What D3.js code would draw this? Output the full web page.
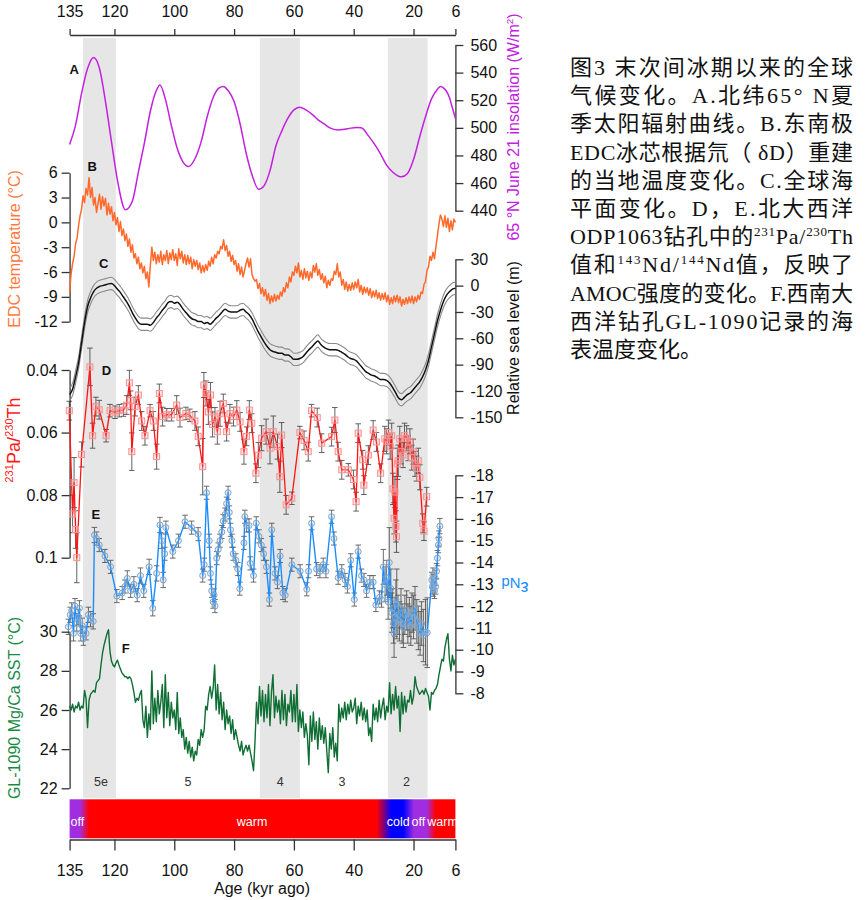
<!DOCTYPE html>
<html><head><meta charset="utf-8">
<script src="https://cdn.jsdelivr.net/npm/d3@7"></script>
<style>body{margin:0;background:#fff}</style>
</head><body>
<svg id="c" width="867" height="900" xmlns="http://www.w3.org/2000/svg"></svg>
<script>
// ---------------- DATA ----------------
const ageTicks = [135,120,100,80,60,40,20,6];
const insolTicks = [440,460,480,500,520,540,560];
const edcTicks = [6,3,0,-3,-6,-9,-12];
const seaTicks = [30,0,-30,-60,-90,-120,-150];
const paTicks = [0.04,0.06,0.08,0.1];
const ndTicks = [-18,-17,-16,-15,-14,-13,-12,-11,-10,-9,-8];
const sstTicks = [30,28,26,24,22];
const bands = [[130.5,119.5],[71.4,58],[28.6,15.3]];
const misLabels = ["5e","5","4","3","2"];
const misAges = [124.5,95.4,64.6,43.9,22.4];

// A: 65N June 21 insolation (W/m2)
const insolAge = [135,133,131,129,127,125,123,121,119,116.3,114,112,110,108,106,104.8,103,101,99,97,95.3,93,91,89,87,85,83.6,82,80,78,76,74,71.8,70,68,66,64,62,60,58.1,56,54,52,50,48,45.3,43,41,39,37.5,35,33,31,29,27,25,24,22,20,18,16,14,12,11,10,8,7.2,6];
const insolVal = [488,502,525,543,551,543,519,490,462,440.6,447,468,489,512,527,531,521,502,485,475,472,478,490,508,522,529,530,527,519,503,482,466,455.5,458,469,487,498,507,513,515,513,510,506,503,500,498.5,499,499.8,500.2,500,494,488,481,473,468,465,464.6,467,477,493,508,521,528,530,529,522,516,507];

// B: EDC temperature (deg C), 135 -> 6 kyr every 0.5 kyr
const edcStart = 135, edcStep = 0.5;
const edcTemp = [
-8.5,-6.2,-5.0,-4.1,-2.6,-1.9,-0.4,0.8,1.6,3.2,
2.4,4.1,3.3,5.4,3.0,4.2,2.1,3.0,1.2,2.3,
3.4,1.6,3.1,2.0,2.9,0.9,2.3,1.0,1.9,0.2,
1.2,-0.3,0.6,-1.1,0.1,-1.6,-0.8,-2.2,-1.4,-2.9,
-2.0,-3.6,-2.7,-4.3,-3.8,-5.0,-4.2,-5.6,-4.9,-6.1,
-5.3,-6.8,-6.0,-7.8,-5.2,-3.0,-4.6,-3.6,-5.0,-3.9,
-4.8,-3.5,-5.1,-3.9,-4.6,-3.4,-5.0,-3.7,-4.5,-3.3,
-4.6,-3.8,-5.2,-3.2,-4.4,-3.5,-4.9,-3.9,-5.1,-4.0,
-5.0,-4.2,-5.6,-4.5,-5.3,-4.6,-5.7,-4.9,-6.1,-5.2,
-6.0,-5.1,-5.8,-4.7,-5.3,-4.2,-5.0,-3.9,-4.3,-3.5,
-3.8,-2.9,-3.2,-2.1,-3.4,-2.8,-4.1,-3.5,-4.7,-4.0,
-5.1,-4.6,-5.9,-5.0,-6.3,-5.4,-6.6,-5.8,-5.0,-4.3,
-5.4,-4.4,-6.3,-6.8,-7.1,-6.9,-8.0,-7.4,-8.6,-7.9,
-8.9,-8.1,-9.4,-8.6,-9.8,-8.9,-9.6,-8.7,-9.5,-8.8,
-9.3,-8.4,-8.9,-7.9,-8.4,-7.3,-7.9,-6.6,-7.2,-6.0,
-6.4,-5.3,-6.1,-4.9,-6.6,-5.8,-6.9,-5.6,-6.7,-5.9,
-7.0,-6.0,-6.7,-5.2,-6.0,-5.0,-6.4,-5.7,-6.9,-6.2,
-7.3,-6.5,-7.9,-7.0,-7.6,-6.8,-7.0,-5.9,-6.3,-5.0,
-6.6,-6.0,-7.6,-6.9,-8.1,-7.2,-8.3,-7.5,-8.2,-7.3,
-8.1,-7.2,-7.9,-6.9,-8.4,-7.6,-8.7,-7.8,-8.5,-7.9,
-8.8,-8.0,-9.1,-8.3,-9.0,-8.2,-9.2,-8.5,-9.4,-8.6,
-9.3,-8.5,-9.6,-8.8,-9.9,-9.1,-9.8,-8.9,-9.6,-8.8,
-9.7,-9.0,-10.1,-9.3,-9.9,-9.1,-9.8,-9.0,-9.7,-8.9,
-9.8,-9.0,-9.6,-8.8,-9.3,-8.4,-8.6,-7.5,-7.2,-5.8,
-5.4,-4.1,-4.6,-3.6,-4.4,-2.9,-1.6,-0.2,0.9,0.4,
-0.5,0.8,-0.6,0.5,-1.1,0.2,-0.9,0.4,0.0];

// C: relative sea level (m), 135 -> 6 kyr every 1 kyr
const seaStart = 135, seaStep = 1, seaErr = 7;
const seaLevel = [
-124,-118,-104,-88,-65,-42,-24,-14,-7,-3,
-1,0,1,2,2.5,0,-4,-8,-13,-18,
-24,-31,-37,-42,-44,-44,-44,-45,-42,-37,
-33,-28,-24,-19,-18,-20,-19,-22,-27,-31,
-35,-38,-39,-41,-41,-43,-42,-44,-41,-37,
-34,-30,-27,-29,-30,-30,-30,-28,-27,-30,
-33,-38,-45,-52,-58,-64,-69,-73,-75,-76,
-77,-77,-79,-79,-81,-84,-84,-83,-81,-77,
-73,-70,-66,-63,-67,-70,-72,-73,-73,-73,
-74,-76,-78,-81,-83,-84,-86,-90,-94,-98,
-100,-102,-103,-105,-107,-107,-108,-111,-116,-122,
-128,-130,-127,-124,-122,-118,-114,-110,-104,-96,
-85,-70,-55,-40,-28,-18,-11,-7,-4,-3];

// D: 231Pa/230Th (ODP1063)
const paAge = [135.1,134.0,133.5,133.0,132.6,131.0,128.2,127.3,126.2,125.1,122.8,121.5,119.8,118.4,117.0,115.9,115.0,114.6,114.2,113.1,112.0,110.9,109.8,108.1,107.0,105.9,105.0,103.9,102.5,100.9,99.2,98.1,96.1,94.8,93.1,92.0,90.5,90.1,89.4,88.6,87.9,87.2,86.4,85.6,84.7,83.6,82.5,81.4,80.2,79.1,78.0,76.7,75.8,74.9,74.1,72.7,71.9,70.8,69.3,68.0,66.9,65.5,64.7,64.1,62.6,60.7,58.0,56.6,55.2,54.1,52.2,50.7,47.4,46.3,45.2,44.0,41.8,40.1,39.2,38.5,37.0,36.6,35.1,33.5,32.4,31.0,29.6,29.0,28.4,27.8,27.3,26.9,26.5,26.2,25.9,25.7,25.4,25.1,24.6,24.2,23.5,23.0,22.3,21.8,21.2,20.6,20.1,19.5,19.0,18.4,17.9,16.9,16.5,15.6];
const paVal = [0.053,0.086,0.076,0.091,0.100,0.067,0.039,0.061,0.0517,0.0527,0.061,0.053,0.0535,0.053,0.0528,0.0512,0.0441,0.0497,0.0661,0.0517,0.048,0.0563,0.061,0.053,0.0563,0.0677,0.0475,0.0549,0.0543,0.0543,0.0512,0.0552,0.0539,0.0545,0.0563,0.0612,0.0709,0.0448,0.0475,0.0534,0.048,0.0574,0.055,0.0597,0.054,0.0507,0.0597,0.054,0.0549,0.0528,0.0566,0.0661,0.0612,0.0528,0.057,0.073,0.0672,0.0618,0.0597,0.065,0.0597,0.0645,0.0741,0.0608,0.0831,0.081,0.06,0.0625,0.0661,0.053,0.0552,0.0634,0.0613,0.056,0.0661,0.0719,0.0719,0.075,0.0821,0.0602,0.0687,0.0768,0.0672,0.0592,0.063,0.073,0.062,0.0628,0.06,0.0645,0.061,0.078,0.0874,0.079,0.09,0.0933,0.07,0.069,0.062,0.066,0.0672,0.061,0.0618,0.065,0.0628,0.068,0.0661,0.07,0.0715,0.069,0.0743,0.089,0.0915,0.0805];
const paErr = [0.003,0.006,0.008,0.006,0.008,0.004,0.006,0.004,0.003,0.003,0.002,0.002,0.002,0.002,0.002,0.003,0.004,0.003,0.006,0.003,0.003,0.003,0.003,0.002,0.003,0.004,0.003,0.003,0.002,0.002,0.003,0.003,0.002,0.002,0.003,0.003,0.009,0.004,0.004,0.004,0.004,0.004,0.003,0.004,0.004,0.003,0.003,0.003,0.003,0.003,0.003,0.004,0.003,0.003,0.003,0.003,0.004,0.004,0.004,0.005,0.005,0.004,0.005,0.004,0.003,0.002,0.002,0.003,0.003,0.002,0.003,0.003,0.003,0.004,0.003,0.003,0.002,0.003,0.003,0.003,0.003,0.003,0.003,0.003,0.003,0.003,0.004,0.004,0.004,0.004,0.004,0.005,0.005,0.005,0.005,0.005,0.005,0.005,0.004,0.004,0.004,0.004,0.004,0.004,0.004,0.004,0.004,0.004,0.004,0.004,0.004,0.003,0.003,0.003];

// E: epsilon Nd (ODP1063)
const ndAge = [135.4,134.8,134.3,133.7,133.2,132.6,132.1,131.7,131.3,130.8,130.4,129.5,128.7,128.0,127.1,126.7,126.0,125.1,123.2,121.3,119.2,117.4,116.5,115.7,114.6,113.5,112.4,111.3,110.2,108.4,107.2,105.9,104.8,104.2,103.7,103.2,102.8,100.5,98.6,96.4,94.2,92.0,90.5,90.0,89.2,88.3,87.9,87.5,87.0,86.7,86.4,85.8,85.3,84.7,84.1,83.6,83.0,82.5,82.0,81.6,81.2,80.7,80.3,79.4,78.8,78.1,76.7,76.4,75.8,75.0,74.6,73.5,72.6,71.7,70.9,70.1,69.2,68.2,67.4,66.3,65.5,64.6,63.7,62.9,60.7,57.9,55.7,55.1,54.1,52.4,51.3,50.2,49.3,47.4,46.6,45.2,44.0,42.9,42.1,41.0,39.8,38.5,37.4,36.6,35.7,34.6,33.5,32.6,31.4,30.7,30.1,29.5,29.0,28.5,28.1,27.6,27.3,27.0,26.7,26.5,26.2,25.9,25.6,25.2,24.7,24.2,23.8,23.4,22.9,22.3,21.9,21.4,20.9,20.5,20.0,19.5,18.9,18.4,17.8,17.3,16.7,16.0,15.4,13.9,13.7,13.5,13.4,13.2,13.0,12.8,12.6,12.3,12.0,11.7,11.5,11.2];
const ndVal = [-11.05,-11.6,-11.8,-10.75,-12.0,-11.2,-11.5,-11.9,-10.75,-11.1,-10.5,-10.75,-11.6,-11.4,-11.3,-15.26,-15.1,-14.8,-14.3,-13.8,-12.46,-12.6,-12.9,-13.27,-12.7,-13.0,-12.5,-13.4,-12.7,-13.8,-11.9,-13.5,-15.72,-15.0,-13.2,-14.4,-15.6,-14.5,-15.0,-15.87,-15.6,-15.3,-13.4,-13.9,-17.2,-15.0,-13.5,-12.7,-12.2,-12.5,-12.0,-14.2,-14.6,-15.0,-15.4,-15.9,-16.2,-16.7,-17.2,-16.3,-15.5,-15.0,-14.4,-14.1,-13.7,-12.8,-14.9,-16.1,-15.7,-15.7,-13.96,-13.4,-15.8,-15.2,-14.8,-14.4,-13.8,-12.3,-15.5,-13.5,-13.1,-14.3,-12.6,-12.5,-13.9,-13.6,-12.77,-13.6,-15.8,-13.7,-13.6,-13.9,-13.6,-16.1,-15.1,-13.3,-13.6,-13.2,-12.9,-14.1,-12.3,-14.5,-13.4,-13.2,-12.7,-13.1,-13.1,-12.05,-12.4,-12.3,-13.8,-13.0,-13.3,-12.2,-14.0,-12.8,-11.7,-11.9,-11.2,-10.75,-11.5,-12.3,-12.1,-11.6,-11.3,-11.9,-11.2,-11.0,-11.6,-11.8,-11.2,-11.5,-11.1,-11.7,-11.5,-11.9,-11.3,-11.0,-10.75,-11.2,-10.65,-10.8,-10.78,-13.2,-12.9,-13.4,-12.8,-13.1,-12.7,-13.3,-12.9,-13.6,-14.2,-14.8,-15.1,-15.67];
const ndErr = [0.35,0.35,0.35,0.35,0.35,0.35,0.35,0.35,0.35,0.35,0.3,0.3,0.35,0.35,0.35,0.35,0.3,0.3,0.3,0.3,0.3,0.3,0.3,0.35,0.3,0.35,0.3,0.35,0.3,0.35,0.35,0.35,0.35,0.35,0.35,0.3,0.3,0.3,0.3,0.3,0.3,0.3,0.3,0.3,0.3,0.3,0.3,0.3,0.3,0.3,0.3,0.3,0.3,0.3,0.3,0.3,0.3,0.3,0.3,0.3,0.3,0.3,0.3,0.3,0.3,0.3,0.3,0.3,0.3,0.3,0.3,0.3,0.3,0.3,0.3,0.3,0.3,0.3,0.3,0.3,0.3,0.3,0.3,0.3,0.3,0.3,0.3,0.3,0.3,0.3,0.3,0.3,0.3,0.3,0.3,0.3,0.3,0.3,0.3,0.3,0.3,0.3,0.3,0.3,0.3,0.3,0.3,0.3,0.3,0.35,0.8,0.8,0.8,0.8,1.6,0.9,0.9,0.9,0.9,1.1,0.9,0.9,1.6,0.9,0.9,0.9,0.9,0.9,0.9,0.9,0.9,0.9,0.9,0.9,1.0,1.0,1.0,1.0,1.0,1.0,1.2,1.5,1.6,0.35,0.35,0.35,0.35,0.35,0.35,0.35,0.35,0.35,0.35,0.35,0.35,0.35];

// F: GL-1090 Mg/Ca SST (deg C), 135 -> 6 kyr every 0.5 kyr
const sstStart = 135, sstStep = 0.5;
const sst = [
26.2,26.0,26.3,25.9,26.2,26.1,26.4,26.0,26.2,26.1,
27.0,26.6,25.1,26.5,26.8,26.9,27.0,26.9,27.4,27.5,
27.6,28.3,28.9,29.3,29.6,29.9,30.1,29.0,28.5,28.3,
28.2,28.4,28.55,28.3,28.1,27.9,27.8,27.7,27.7,27.6,
27.7,27.6,27.3,26.9,26.4,26.6,26.5,26.8,27.0,25.5,
25.1,26.2,24.6,25.8,25.0,28.0,25.3,26.6,25.4,27.0,
25.8,26.4,27.3,25.1,27.8,25.6,26.9,25.2,26.4,25.6,
26.0,25.0,26.9,24.8,25.6,24.6,25.0,24.0,24.6,23.8,
24.4,23.6,24.1,23.4,23.9,23.7,24.5,24.2,25.0,24.6,
25.0,26.2,26.0,26.8,27.2,26.6,27.1,28.3,26.0,27.3,
25.8,26.9,25.5,26.4,25.0,26.0,25.3,25.7,24.8,25.5,
24.5,25.0,24.6,24.2,23.9,24.4,23.7,24.0,24.2,23.9,
24.2,23.8,23.4,22.9,24.4,26.4,25.3,27.2,25.7,27.0,
25.4,26.8,25.6,27.3,25.2,26.9,27.8,25.6,26.7,25.9,
26.5,25.3,27.0,25.5,26.8,25.2,26.3,25.9,27.0,25.4,
26.8,25.4,27.3,24.9,26.0,25.1,25.9,24.6,25.3,24.7,
23.2,25.7,24.4,25.9,24.5,25.4,24.0,25.6,24.5,25.2,
24.3,25.1,23.9,22.8,24.8,24.0,25.1,23.6,24.3,23.4,
26.3,25.4,26.1,25.6,26.4,25.5,26.3,25.8,26.5,25.9,
26.1,26.6,25.3,26.2,25.7,26.4,25.5,26.1,25.4,26.0,
24.7,25.1,24.4,26.3,25.5,26.1,25.4,26.5,25.6,26.2,
26.6,25.5,26.2,25.9,27.4,25.8,26.8,26.0,27.2,26.1,
26.7,24.9,26.9,25.8,26.7,25.9,26.5,26.4,27.0,26.3,
26.7,27.7,27.2,27.0,26.8,26.9,27.0,26.8,27.1,26.9,
26.7,26.0,26.9,26.8,27.0,27.1,27.3,27.8,28.2,28.6,
28.5,29.2,29.6,29.9,28.6,28.0,28.8,28.3,28.6];

// AMOC state colour bar
const barAges = [135,131.5,128.5,32.3,27.5,23.4,19.8,15.6,12.6,6];
const barColors = ["#a02ee0","#a02ee0","#ff0000","#ff0000","#0000ff","#0000ff","#a02ee0","#a02ee0","#ff0000","#ff0000"];
const barLabels = ["off","warm","cold","off","warm"];
const barLabelAges = [132.4,74,25.1,18.4,10.3];

// caption
const caption = [
  [["图3 末次间冰期以来的全球"]],
  [["气候变化。A.北纬65° N夏"]],
  [["季太阳辐射曲线。B.东南极"]],
  [["EDC冰芯根据氘（ δD）重建"]],
  [["的当地温度变化。C.全球海"]],
  [["平面变化。D，E.北大西洋"]],
  [["ODP1063钻孔中的"],["231",1],["Pa/"],["230",1],["Th"]],
  [["值和"],["143",1],["Nd/"],["144",1],["Nd值，反映了"]],
  [["AMOC强度的变化。F.西南大"]],
  [["西洋钻孔GL-1090记录的海"]],
  [["表温度变化。"]]
];

// ---------------- DRAW ----------------
const FONT = "'Liberation Sans', Arial, Helvetica, sans-serif";
const svg = d3.select("#c");
const X0 = 69.6, X1 = 455.4;
const x  = d3.scaleLinear().domain([135,6]).range([X0,X1]);
const yA = d3.scaleLinear().domain([440,560]).range([210.7,45]);
const yB = d3.scaleLinear().domain([-12,6]).range([321.7,172.7]);
const yC = d3.scaleLinear().domain([-150,30]).range([417.3,259.3]);
const yD = d3.scaleLinear().domain([0.04,0.1]).range([370,557.7]);
const yE = d3.scaleLinear().domain([-18,-8]).range([475.3,693.3]);
const yF = d3.scaleLinear().domain([22,30]).range([788.3,631.7]);

const C_PURPLE = "#c320e0", C_ORANGE = "#ff6a2c", C_RED = "#ff1414", C_BLUE = "#1a8cff", C_GREEN = "#0f6e34";

// grey bands
svg.append("g").selectAll("rect").data(bands).join("rect")
  .attr("x", d => x(d[0])).attr("width", d => x(d[1]) - x(d[0]))
  .attr("y", 38).attr("height", 760).attr("fill", "#e6e6e6");

// MIS labels
svg.append("g").selectAll("text").data(misLabels).join("text")
  .attr("x", (d,i) => x(misAges[i])).attr("y", 786)
  .attr("text-anchor","middle").attr("font-family",FONT).attr("font-size",12.5).attr("fill","#333").text(d=>d);

// axis helper
function axisG(axis, tx, ty){
  const g = svg.append("g").attr("transform",`translate(${tx},${ty})`).call(axis);
  g.attr("font-size",16).attr("font-family",FONT);
  g.select(".domain").attr("stroke","#333").attr("stroke-width",1.3);
  g.selectAll(".tick line").attr("stroke","#333").attr("stroke-width",1.3);
  g.selectAll(".tick text").attr("fill","#111");
  return g;
}
const fmt = d => String(d);

// top and bottom age axes
axisG(d3.axisTop(x).tickValues(ageTicks).tickFormat(fmt).tickSize(6).tickSizeOuter(0).tickPadding(12), 0, 35);
axisG(d3.axisBottom(x).tickValues(ageTicks).tickFormat(fmt).tickSize(11).tickSizeOuter(0).tickPadding(14), 0, 839.5);

// left axes
axisG(d3.axisLeft(yB).tickValues(edcTicks).tickFormat(fmt).tickSize(8).tickSizeOuter(0).tickPadding(4), X0, 0);
axisG(d3.axisLeft(yD).tickValues(paTicks).tickFormat(d => d === 0.1 ? "0.1" : d.toFixed(2)).tickSize(8).tickSizeOuter(0).tickPadding(4), X0, 0);
axisG(d3.axisLeft(yF).tickValues(sstTicks).tickFormat(fmt).tickSize(8).tickSizeOuter(0).tickPadding(4), X0, 0);
// right axes
axisG(d3.axisRight(yA).tickValues(insolTicks).tickFormat(fmt).tickSize(8).tickSizeOuter(0).tickPadding(7), X1, 0);
axisG(d3.axisRight(yC).tickValues(seaTicks).tickFormat(fmt).tickSize(8).tickSizeOuter(0).tickPadding(7), X1, 0);
axisG(d3.axisRight(yE).tickValues(ndTicks).tickFormat(fmt).tickSize(8).tickSizeOuter(0).tickPadding(7), X1, 0);

// ---- B: EDC temperature
const edcPts = edcTemp.map((v,i) => [edcStart - i*edcStep, v]);
svg.append("path").datum(edcPts)
  .attr("d", d3.line().x(d => x(d[0])).y(d => yB(d[1])))
  .attr("fill","none").attr("stroke",C_ORANGE).attr("stroke-width",1.5).attr("stroke-linejoin","round");

// ---- C: sea level with envelope
const seaPts = seaLevel.map((v,i) => [seaStart - i*seaStep, v]);
const seaLine = off => d3.line().curve(d3.curveMonotoneX).x(d => x(d[0])).y(d => yC(d[1] + off));
[seaErr, -seaErr].forEach(o => svg.append("path").datum(seaPts).attr("d", seaLine(o))
  .attr("fill","none").attr("stroke","#8a8a8a").attr("stroke-width",1.1));
svg.append("path").datum(seaPts).attr("d", seaLine(0))
  .attr("fill","none").attr("stroke","#111").attr("stroke-width",1.5);

// ---- A: insolation
const insolPts = insolAge.map((a,i) => [a, insolVal[i]]);
svg.append("path").datum(insolPts)
  .attr("d", d3.line().curve(d3.curveMonotoneX).x(d => x(d[0])).y(d => yA(d[1])))
  .attr("fill","none").attr("stroke",C_PURPLE).attr("stroke-width",1.5);

// error bar helper
function errBars(ages, vals, errs, ys, color, op){
  const g = svg.append("g").attr("stroke",color).attr("stroke-width",0.9).attr("opacity",op).attr("fill","none");
  g.selectAll("path").data(ages).join("path").attr("d", (a,i) => {
    const cx = x(a), y1 = ys(vals[i]-errs[i]), y2 = ys(vals[i]+errs[i]);
    return `M${cx},${y1}V${y2}M${cx-2.8},${y1}H${cx+2.8}M${cx-2.8},${y2}H${cx+2.8}`;
  });
}

// ---- D: Pa/Th
errBars(paAge, paVal, paErr, yD, "#1a1a1a", 0.75);
const paPts = paAge.map((a,i) => [a, paVal[i]]);
svg.append("path").datum(paPts)
  .attr("d", d3.line().x(d => x(d[0])).y(d => yD(d[1])))
  .attr("fill","none").attr("stroke",C_RED).attr("stroke-width",1.3).attr("stroke-linejoin","round");
svg.append("g").selectAll("rect").data(paPts).join("rect")
  .attr("x", d => x(d[0]) - 3).attr("y", d => yD(d[1]) - 3).attr("width",6).attr("height",6)
  .attr("fill","rgba(255,150,150,0.25)").attr("stroke","#ff8f8f").attr("stroke-width",1);

// ---- E: eps Nd
errBars(ndAge, ndVal, ndErr, yE, "#1a1a1a", 0.7);
const ndPts = ndAge.map((a,i) => [a, ndVal[i]]);
svg.append("path").datum(ndPts)
  .attr("d", d3.line().x(d => x(d[0])).y(d => yE(d[1])))
  .attr("fill","none").attr("stroke",C_BLUE).attr("stroke-width",1.4).attr("stroke-linejoin","round");
svg.append("g").selectAll("circle").data(ndPts).join("circle")
  .attr("cx", d => x(d[0])).attr("cy", d => yE(d[1])).attr("r",3)
  .attr("fill","rgba(150,190,230,0.25)").attr("stroke","#7ea6cc").attr("stroke-width",1);

// ---- F: SST
const sstPts = sst.map((v,i) => [sstStart - i*sstStep, v]);
svg.append("path").datum(sstPts)
  .attr("d", d3.line().x(d => x(d[0])).y(d => yF(d[1])))
  .attr("fill","none").attr("stroke",C_GREEN).attr("stroke-width",1.4).attr("stroke-linejoin","round");

// ---- colour bar
const defs = svg.append("defs");
const grad = defs.append("linearGradient").attr("id","amoc").attr("x1","0%").attr("x2","100%").attr("y1","0%").attr("y2","0%");
grad.selectAll("stop").data(barAges).join("stop")
  .attr("offset", a => ((x(a) - X0) / (X1 - X0) * 100) + "%")
  .attr("stop-color", (a,i) => barColors[i]);
svg.append("rect").attr("x",X0).attr("y",799.3).attr("width",X1-X0).attr("height",39)
  .attr("fill","url(#amoc)");
svg.append("g").selectAll("text").data(barLabels).join("text")
  .attr("x",(d,i) => x(barLabelAges[i])).attr("y",826).attr("text-anchor","middle")
  .attr("font-family",FONT).attr("font-size",12.5).attr("fill","#fff").text(d=>d);

// ---- panel letters
const letters = [["A",69.6,74],["B",87.5,170.7],["C",98.9,268.3],["D",101.7,375],["E",91.5,519],["F",121.7,653]];
svg.append("g").selectAll("text").data(letters).join("text")
  .attr("x",d=>d[1]).attr("y",d=>d[2]).attr("font-family",FONT).attr("font-weight","bold")
  .attr("font-size",13).attr("fill","#111").text(d=>d[0]);

// ---- axis titles
function vTitle(cx, cy, color, size, parts, rot){
  const t = svg.append("text").attr("transform",`translate(${cx},${cy}) rotate(${rot||-90})`)
    .attr("text-anchor","middle").attr("dy","0.35em").attr("font-family",FONT)
    .attr("font-size",size).attr("fill",color);
  parts.forEach(p => {
    if (p[1]) t.append("tspan").attr("font-size",size*0.62).attr("dy",-size*0.4).text(p[0]);
    else t.append("tspan").attr("dy", p[2] || 0).text(p[0]);
  });
  return t;
}
vTitle(20, 249, "#ff7a40", 16, [["EDC temperature (°C)"]]);
vTitle(20, 440, "#ff1a1a", 18, [["231",1],["Pa/",0,7.2],["230",1],["Th",0,7.2]]);
vTitle(20, 708, "#188a45", 16, [["GL-1090 Mg/Ca SST (°C)"]]);
vTitle(519, 127, C_PURPLE, 16, [["65 °N June 21 insolation (W/m"],["2",1],[")",0,6.4]]);
vTitle(519, 338, "#111", 16, [["Relative sea level (m)"]]);
// eps Nd label (printed upside down in the original)
const eps = svg.append("text").attr("transform","translate(515,588) rotate(180)")
  .attr("text-anchor","middle").attr("dy","0.35em").attr("font-family",FONT)
  .attr("font-size",18).attr("fill",C_BLUE);
eps.append("tspan").text("ε");
eps.append("tspan").attr("font-size",15).attr("dy",4).text("Nd");

// age title
svg.append("text").attr("x",262).attr("y",894).attr("text-anchor","middle")
  .attr("font-family",FONT).attr("font-size",16).attr("fill","#111").text("Age (kyr ago)");

// ---- caption block
const CAPFONT = "'Liberation Serif','Noto Sans CJK SC','Noto Sans CJK JP',serif";
caption.forEach((line, li) => {
  const t = svg.append("text").attr("x",570).attr("y",75 + li*28.2)
    .attr("font-family",CAPFONT).attr("font-size",22).attr("fill","#111");
  if (li < caption.length - 1) t.attr("textLength",283).attr("lengthAdjust","spacing");
  let raised = false;
  line.forEach(seg => {
    const ts = t.append("tspan").text(seg[0]);
    if (seg[1]) { ts.attr("font-size",13).attr("dy", raised ? 0 : -8); raised = true; }
    else if (raised) { ts.attr("dy", 8); raised = false; }
  });
});
</script>
</body></html>
